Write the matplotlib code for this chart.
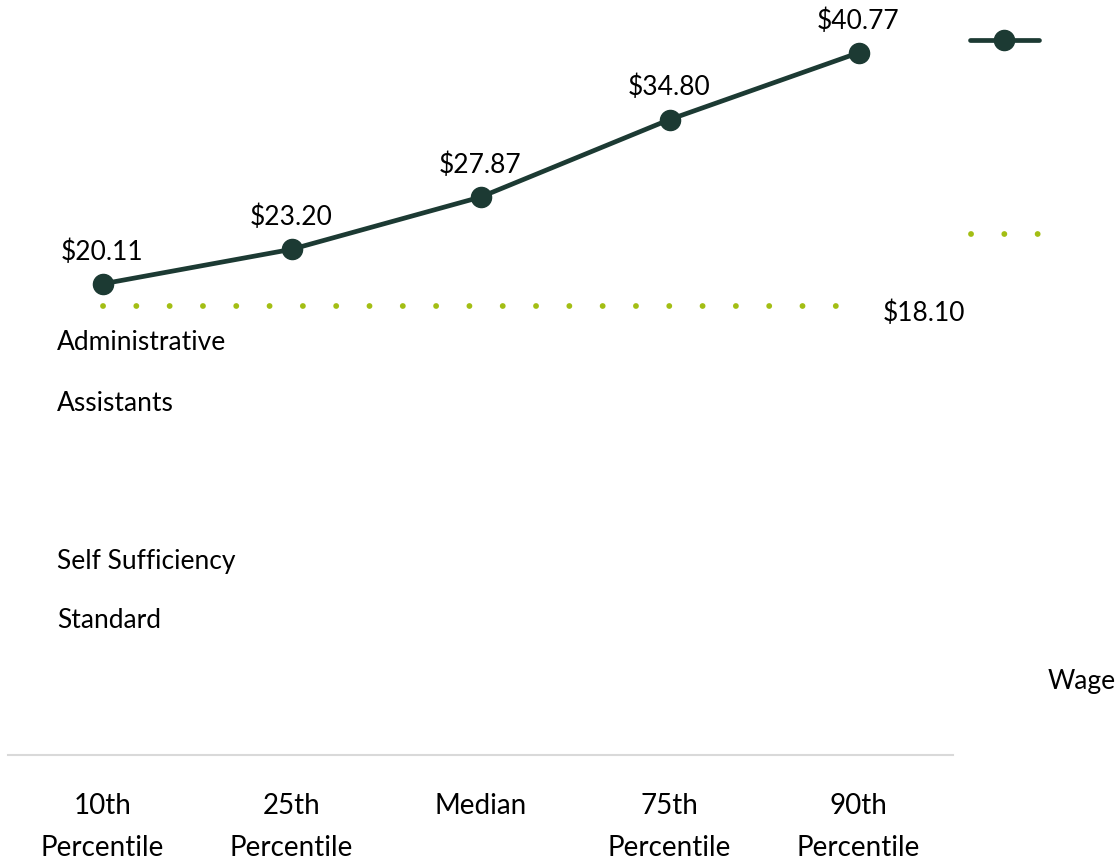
import matplotlib
matplotlib.use("Agg")
import matplotlib.pyplot as plt
from matplotlib.lines import Line2D

plt.rcParams['font.family'] = ['Lato', 'DejaVu Sans']

# wage percentiles for administrative assistants
categories = ['10th\nPercentile', '25th\nPercentile', 'Median', '75th\nPercentile', '90th\nPercentile']
wages = [20.11, 23.20, 27.87, 34.80, 40.77]
self_sufficiency = 18.10

dark = '#1c3a33'
lime = '#a3be14'
W, H = 1119, 865

fig = plt.figure(figsize=(W / 100, H / 100), dpi=100)
# axes box in pixels: left 8, right 953, bottom at y=755, top at y=20
ax = fig.add_axes([8 / W, (H - 755) / H, 945 / W, 735 / H])

x = list(range(len(categories)))
ax.plot(x, wages, color=dark, lw=3.4, marker='o', ms=14.5, zorder=3, solid_capstyle='round')
ax.plot([x[0], x[-1]], [self_sufficiency] * 2, color=lime, lw=4.2,
        linestyle=(0, (0.01, 5.7)), dash_capstyle='round', zorder=2)

for xi, v in zip(x, wages):
    ax.annotate(f'${v:.2f}', (xi, v), xytext=(0, 23), textcoords='offset points',
                ha='center', va='center', fontsize=19)
ax.annotate(f'${self_sufficiency:.2f}', (x[-1], self_sufficiency), xytext=(47, -5),
            textcoords='offset points', ha='center', va='center', fontsize=19)

ax.set_xlim(-0.5, 4.5)
ax.set_ylim(-22.0, 43.7)
ax.set_xticks(x)
ax.set_xticklabels(categories, fontsize=20, linespacing=1.8, va='top')
ax.tick_params(axis='x', length=0, pad=27)
ax.set_yticks([])
for side in ['left', 'right', 'top']:
    ax.spines[side].set_visible(False)
ax.spines['bottom'].set_color('#d9d9d9')
ax.spines['bottom'].set_linewidth(1.5)

# legend entries laid out by hand
fig.add_artist(Line2D([970 / W, 1039 / W], [(H - 40) / H] * 2, color=dark, lw=3.4,
                      solid_capstyle='round'))
fig.add_artist(Line2D([1004 / W], [(H - 40) / H], color=dark, marker='o', ms=14.5, lw=0))
fig.add_artist(Line2D([971 / W, 1040 / W], [(H - 234) / H] * 2, color=lime, lw=4.2,
                      linestyle=(0, (0.01, 5.7)), dash_capstyle='round'))

labels = [('Administrative', 57, 343), ('Assistants', 57, 403),
          ('Self Sufficiency', 57, 561), ('Standard', 57, 621), ('Wage', 1048, 681)]
for txt, px, py in labels:
    fig.text(px / W, (H - py) / H, txt, ha='left', va='center', fontsize=19)

fig.savefig('out.png', dpi=100)
